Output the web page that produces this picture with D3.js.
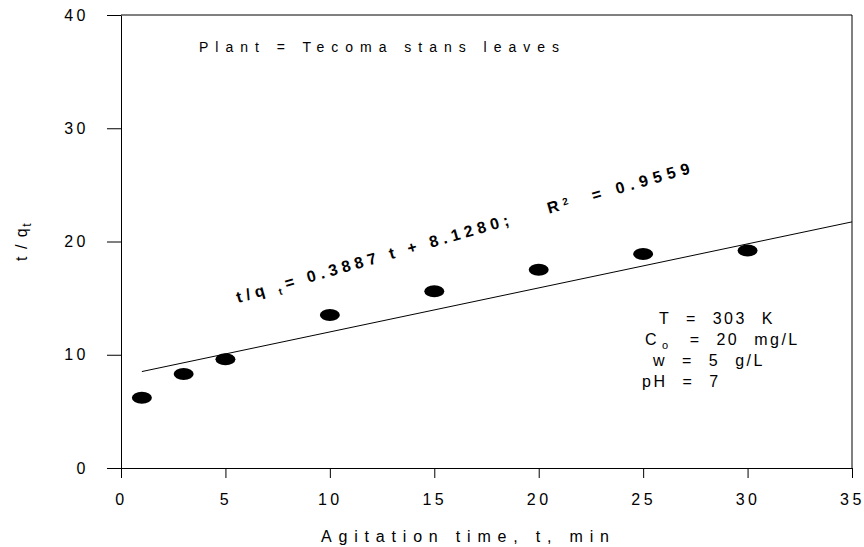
<html lang="en"><head>
<meta charset="utf-8">
<script src="https://d3js.org/d3.v7.min.js"></script>
<style>
  body { margin: 0; background: #fff; }
  svg text { font-family: Arial, "Liberation Sans", sans-serif; fill: #000; }
  .tick text { font-size: 16px; letter-spacing: 3.5px; }
</style>
</head><body>
<div id="chart"></div>
<script>
// agitation time (min) and t/qt values
const timeVals = [1, 3, 5, 10, 15, 20, 25, 30];
const tqVals = [6.2, 8.3, 9.6, 13.5, 15.6, 17.5, 18.9, 19.2];
const xTicks = [0, 5, 10, 15, 20, 25, 30, 35];
const yTicks = [0, 10, 20, 30, 40];
// linear fit shown in the chart
const fitSlope = 0.3887, fitIntercept = 8.1280;
const fitRange = [1, 35];
const condLines = ["T = 303 K", "C|o| = 20 mg/L", "w = 5 g/L", "pH = 7"];

const width = 864, height = 547;
const margin = { top: 15, right: 12, bottom: 79, left: 121 };

const svg = d3.select("#chart").append("svg")
    .attr("width", width)
    .attr("height", height);

const x = d3.scaleLinear().domain([0, 35]).range([margin.left, width - margin.right]);
const y = d3.scaleLinear().domain([0, 40]).range([height - margin.bottom, margin.top]);

// axes
const gx = svg.append("g")
    .attr("transform", `translate(0,${y(0)})`)
    .call(d3.axisBottom(x).tickValues(xTicks).tickSize(10).tickSizeOuter(0).tickPadding(16));
const gy = svg.append("g")
    .attr("transform", `translate(${x(0)},0)`)
    .call(d3.axisLeft(y).tickValues(yTicks).tickSize(14).tickSizeOuter(0).tickPadding(18));
svg.selectAll(".tick line, .domain").attr("stroke", "#000");

// frame: top and right
svg.append("line").attr("x1", x(0)).attr("x2", x(35)).attr("y1", y(40)).attr("y2", y(40)).attr("stroke", "#000");
svg.append("line").attr("x1", x(35)).attr("x2", x(35)).attr("y1", y(40)).attr("y2", y(0)).attr("stroke", "#000");

// fit line
svg.append("line")
    .attr("x1", x(fitRange[0])).attr("y1", y(fitSlope * fitRange[0] + fitIntercept))
    .attr("x2", x(fitRange[1])).attr("y2", y(fitSlope * fitRange[1] + fitIntercept))
    .attr("stroke", "#000").attr("stroke-width", 1);

// points
svg.append("g").selectAll("ellipse")
    .data(timeVals.map((t, i) => ({ t: t, v: tqVals[i] })))
    .join("ellipse")
    .attr("cx", d => x(d.t))
    .attr("cy", d => y(d.v))
    .attr("rx", 10).attr("ry", 6)
    .attr("fill", "#000");

// axis titles
svg.append("text")
    .attr("x", 321).attr("y", 542)
    .attr("textLength", 288).attr("lengthAdjust", "spacing")
    .style("font-size", "16px")
    .text("Agitation time, t, min");

const yl = svg.append("text")
    .attr("transform", "translate(27,261) rotate(-90)")
    .style("font-size", "16px")
    .style("letter-spacing", "1.5px");
yl.append("tspan").text("t / q");
yl.append("tspan").attr("baseline-shift", "-30%").style("font-size", "12px").text("t");

// plant label
svg.append("text")
    .attr("x", 199).attr("y", 52)
    .attr("textLength", 360).attr("lengthAdjust", "spacing")
    .style("font-size", "14px")
    .text("Plant = Tecoma stans leaves");

// equation
const eq = svg.append("text")
    .attr("transform", "translate(238,303) rotate(-16)")
    .style("font-size", "16px")
    .style("font-weight", "bold")
    .style("letter-spacing", "4.6px")
    .attr("xml:space", "preserve");
eq.append("tspan").text("t/q ");
eq.append("tspan").attr("baseline-shift", "-35%").style("font-size", "10px").text("t");
eq.append("tspan").text("= 0.3887 t + 8.1280;    R");
eq.append("tspan").attr("baseline-shift", "45%").style("font-size", "10px").text("2");
eq.append("tspan").style("letter-spacing", "5.5px").text("  = 0.9559");

// conditions
const condX = [659, 645, 653, 642];
const condY = [324, 345, 366, 387];
condLines.forEach((s, i) => {
    const t = svg.append("text")
        .attr("x", condX[i]).attr("y", condY[i])
        .style("font-size", "16px")
        .style("letter-spacing", "2.5px")
        .style("word-spacing", "8px");
    const parts = s.split("|");
    if (parts.length === 3) {
        t.append("tspan").text(parts[0]);
        t.append("tspan").attr("dx", 3).attr("baseline-shift", "-40%").style("font-size", "11px").text(parts[1]);
        t.append("tspan").attr("dx", 4).text(parts[2]);
    } else {
        t.text(s);
    }
});
</script>
</body></html>
